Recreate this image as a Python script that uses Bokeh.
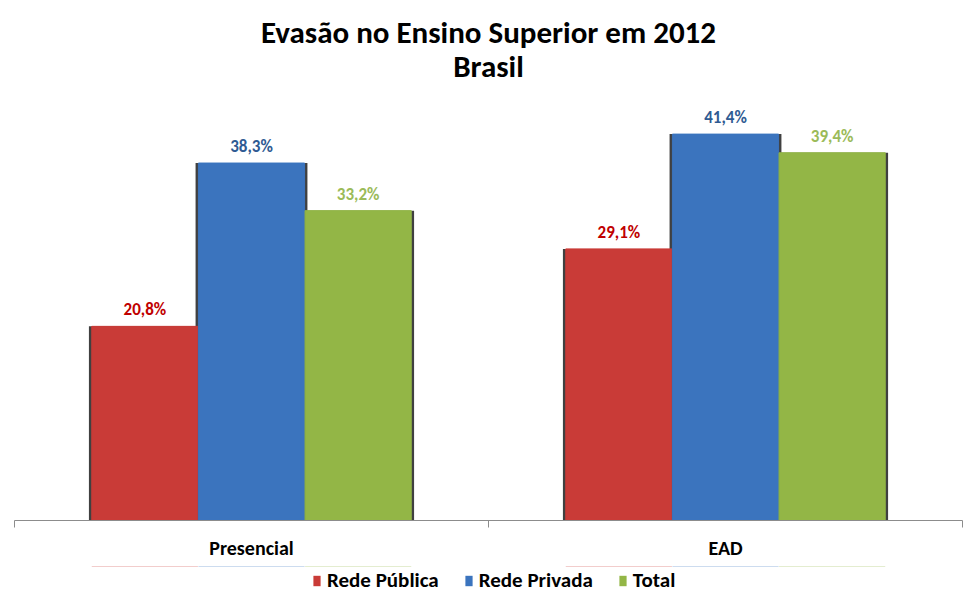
from bokeh.plotting import figure
from bokeh.layouts import column
from bokeh.models import (ColumnDataSource, FixedTicker, LinearAxis, Range1d,
                          Legend, LegendItem, LabelSet, Label)
from bokeh.core.properties import value
from bokeh.embed import file_html
from bokeh.resources import INLINE

categories = ["Presencial", "EAD"]
series = ["Rede Pública", "Rede Privada", "Total"]
rede_publica = [20.8, 29.1]
rede_privada = [38.3, 41.4]
total = [33.2, 39.4]
title_lines = ["Evasão no Ensino Superior em 2012", "Brasil"]

bar_colors = ["#C93B37", "#3B74BE", "#93B646"]
label_colors = ["#C00000", "#2F5B93", "#9BBB59"]
offsets = [-0.225, 0.0, 0.225]
bar_w = 0.224

FONT = "Carlito"

# ---- title strip ----
tt = figure(width=974, height=100, output_backend="svg", toolbar_location=None,
            x_range=Range1d(0, 974), y_range=Range1d(100, 0),
            min_border=0, background_fill_color="white", border_fill_color="white")
tt.outline_line_color = None
tt.axis.visible = False
tt.grid.visible = False
for txt, ypos in zip(title_lines, [31, 65]):
    tt.add_layout(Label(x=487, y=ypos, text=txt, text_align="center",
                        text_baseline="middle", text_font=FONT, text_font_style="bold",
                        text_font_size="31px", text_color="black"))

# ---- main chart ----
p = figure(frame_width=948, frame_height=420, output_backend="svg", toolbar_location=None,
           x_range=Range1d(0, 2), y_range=Range1d(0, 45),
           min_border_left=14, min_border_right=12, min_border_top=0, min_border_bottom=46,
           background_fill_color="white", border_fill_color="white")
p.outline_line_color = None
p.grid.visible = False
p.yaxis.visible = False
p.xaxis.visible = False

centers = [i + 0.5 for i in range(len(categories))]
data_series = [rede_publica, rede_privada, total]

for k, (name, vals) in enumerate(zip(series, data_series)):
    xs = [c + offsets[k] for c in centers]
    src = ColumnDataSource(dict(x=xs, top=vals))
    p.vbar(x="x", top="top", width=bar_w + 0.012, bottom=0, source=src,
           fill_color="black", line_color=None, fill_alpha=0.75)
for k, (name, vals) in enumerate(zip(series, data_series)):
    xs = [c + offsets[k] for c in centers]
    src = ColumnDataSource(dict(x=xs, top=vals,
                                lbl=[f"{v:.1f}".replace(".", ",") + "%" for v in vals]))
    p.vbar(x="x", top="top", width=bar_w, bottom=0, source=src,
           fill_color=bar_colors[k], line_color=bar_colors[k], line_width=1)
    lab = LabelSet(x="x", y="top", text="lbl", source=src, text_align="center",
                   text_baseline="bottom", y_offset=6, text_color=value(label_colors[k]),
                   text_font=value(FONT), text_font_style=value("bold"),
                   text_font_size=value("17px"))
    p.add_layout(lab)

ax1 = LinearAxis(ticker=FixedTicker(ticks=[0, 1, 2]),
                 major_label_overrides={0: "", 1: "", 2: ""})
ax1.axis_line_color = "#8C8C8C"
ax1.major_tick_line_color = "#8C8C8C"
ax1.major_tick_out = 7
ax1.major_tick_in = 0
ax1.minor_tick_line_color = None
ax1.major_label_text_font_size = "1px"
ax1.major_label_standoff = 0
p.add_layout(ax1, "below")

ax2 = LinearAxis(ticker=FixedTicker(ticks=centers),
                 major_label_overrides={c: n for c, n in zip(centers, categories)})
ax2.axis_line_color = None
ax2.major_tick_line_color = None
ax2.minor_tick_line_color = None
ax2.major_label_standoff = 2
ax2.major_label_text_font = FONT
ax2.major_label_text_font_style = "bold"
ax2.major_label_text_font_size = "20px"
ax2.major_label_text_color = "black"
p.add_layout(ax2, "below")

# ---- legend strip ----
lg = figure(width=974, height=40, output_backend="svg", toolbar_location=None,
            x_range=Range1d(0, 2), y_range=Range1d(0, 1),
            min_border=0, background_fill_color="white", border_fill_color="white")
lg.outline_line_color = None
lg.axis.visible = False
lg.grid.visible = False
items = []
for k, (name, vals) in enumerate(zip(series, data_series)):
    # zero-height proxies, outside the strip's visible range, only feed the legend
    xs = [c + offsets[k] for c in centers]
    r = lg.vbar(x=xs, top=vals, bottom=vals, width=bar_w, fill_color=bar_colors[k],
                line_color=None)
    items.append(LegendItem(label=name, renderers=[r]))
legend = Legend(items=items, orientation="horizontal", location=(298, 13),
                border_line_color=None, background_fill_alpha=0,
                label_text_font=FONT, label_text_font_style="bold",
                label_text_font_size="21px", label_text_color="black",
                glyph_width=9, glyph_height=13,
                spacing=25, label_standoff=6, padding=0, margin=0)
lg.add_layout(legend, "center")

layout = column(tt, p, lg, spacing=0)
open("out.html", "w").write(file_html(layout, INLINE))
